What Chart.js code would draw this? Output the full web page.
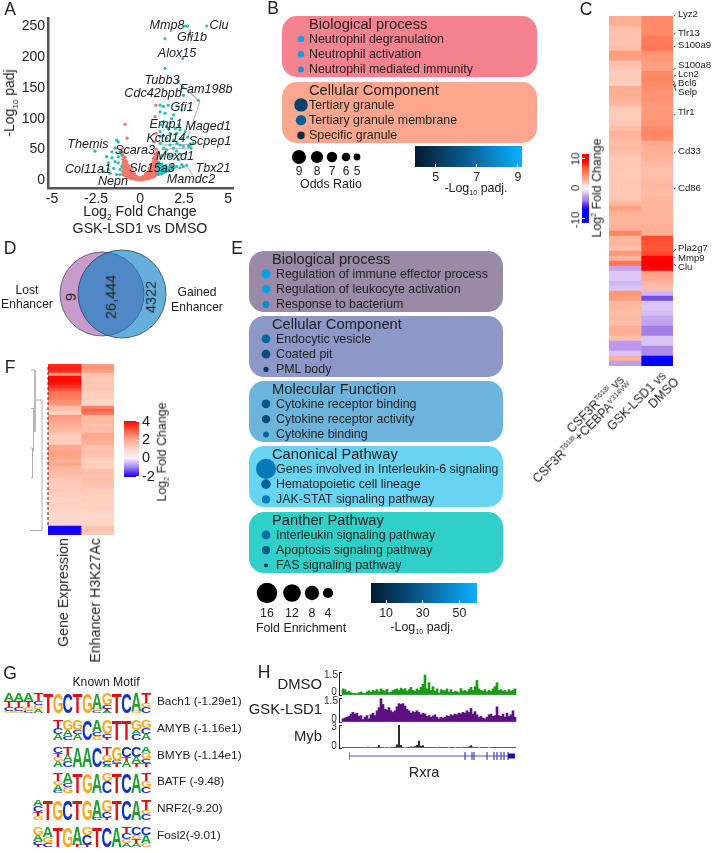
<!DOCTYPE html>
<html>
<head>
<meta charset="utf-8">
<title>Figure</title>
<script src="https://cdn.jsdelivr.net/npm/chart.js@4/dist/chart.umd.min.js"></script>
<style>
body { margin: 0; background: #fff; width: 712px; height: 853px; position: relative; overflow: hidden; font-family: "Liberation Sans", Arial, sans-serif; color: #222; }
canvas { position: absolute; display: block; }
.t { position: absolute; white-space: nowrap; line-height: 1; will-change: transform; }
.box { position: absolute; border-radius: 15px; }
sub, sup { font-size: 58%; line-height: 0; }
</style>
</head>
<body>
<script>
// A volcano
const volcanoTicksX = [-5, -2.5, 0, 2.5, 5];
const volcanoTicksY = [0, 50, 100, 150, 200, 250];
const volcanoSalmon = [
  [-0.97,9],[-0.98,14],[-0.96,19],[-0.97,25],[-0.95,29],[-0.97,34],[-0.96,39],[-0.94,45],[-0.98,52],
  [-0.86,7],[-0.87,12],[-0.85,17],[-0.86,22],[-0.84,27],[-0.86,32],[-0.85,37],
  [-0.75,5],[-0.74,10],[-0.76,15],[-0.75,20],[-0.73,25],[-0.75,30],
  [-0.64,4],[-0.65,8],[-0.63,13],[-0.64,18],[-0.62,23],
  [-0.53,3],[-0.54,7],[-0.52,11],[-0.53,15],[-0.51,19],
  [-0.42,2],[-0.43,5],[-0.41,9],[-0.42,13],
  [-0.31,1.5],[-0.32,4],[-0.3,7],[-0.31,10],
  [-0.2,1],[-0.21,3],[-0.19,6],[-0.1,0.5],[-0.1,2],[-0.09,4],[0,0.5],[0.01,2],[0,3],
  [0.1,0.5],[0.11,2],[0.1,4],[0.2,1],[0.21,3],[0.19,6],
  [0.31,1.5],[0.3,4],[0.32,7],[0.31,10],
  [0.42,2],[0.41,5],[0.43,9],[0.42,13],
  [0.53,3],[0.52,7],[0.54,11],[0.53,15],[0.51,19],
  [0.64,4],[0.63,8],[0.65,13],[0.64,18],[0.62,23],
  [0.75,5],[0.76,10],[0.74,15],[0.75,20],[0.73,25],[0.75,30],[0.76,35],
  [0.86,7],[0.85,12],[0.87,17],[0.86,22],[0.84,27],[0.86,32],[0.85,37],[0.87,42],
  [0.96,9],[0.97,14],[0.95,19],[0.97,24],[0.96,29],[0.94,34],[0.97,39],[0.95,44],[0.93,50],
  [-0.85,91],[-0.74,68],[0.89,122],[0.85,103],[0.9,76],[0.8,62]
];
const volcanoTeal = [
  [2.56,251],[2.7,251],[3.79,251],[1.42,230],[2.42,198],[1.42,182],[2.18,161],[2.42,151],[2.46,138],[3.31,130],
  [1.14,122],[1.33,120],[1.6,122],[2.08,121],[2.37,114],[1.14,111],[1.42,109],[1.9,106],[1.33,95],[1.7,93],
  [1.5,87],[2,84],[2.27,82],[1.14,79],[1.7,76],[2.08,76],[2.56,79],[1.14,71],[1.5,68],[1.9,65],[2.37,68],
  [1.14,60],[1.7,57],[2.27,57],[2.84,57],[1.33,52],[1.9,52],[2.46,55],[2.75,55],[1.04,44],[1.5,49],[2.08,47],
  [1.14,36],[1.7,38],[2.18,33],[2.37,25],[2.65,24],[2.27,20],[2.08,22],[2.46,22],[3.01,60],[2.9,52],
  [1.25,40],[1.6,42],[1.85,40],[2.3,42],[2.6,44],[1.3,72],[1.6,84],[2.2,90],[1.8,100],[2.7,70],[1.2,90],[2.1,60],
  [-2.56,47],[-1.33,65],[-1.24,62],[-1.9,38],[-1.6,36],[-1.42,30],[-1.24,28],[-1.8,17],[-2.08,14],[-1.7,11],
  [-1.14,17],[-1.04,22],[-1.5,19],[-1.33,9],[-1.14,9],[-1.42,52],[-1.14,46],[-1.24,38],[-1.04,41],[-1.6,46],[-1.8,28],
  [1.03,9],[1.04,14],[1.02,19],[1.03,24],[1.05,29],
  [1.14,10],[1.15,15],[1.13,20],[1.14,25],
  [1.25,11],[1.26,16],[1.24,21],[1.25,26],
  [1.36,12],[1.37,17],[1.35,22],
  [1.47,14],[1.48,19],[1.46,24],
  [1.58,15],[1.59,20],[1.69,17],[1.7,22],[1.8,18],[1.82,23],[1.95,20]
];
const volcanoGenes = ['Mmp8','Gfi1b','Clu','Alox15','Tubb3','Cdc42bpb','Fam198b','Gfi1','Emp1','Maged1','Kctd14','Scpep1','Themis','Scara3','Moxd1','Col11a1','Slc15a3','Tbx21','Mamdc2','Nepn'];
const volcanoGeneLabelPos = [[167,25],[192,37],[219,25],[177,53],[162,80],[153,93],[206,89],[182,107],[166,124],[208,126],[166,138],[210,141],[88,144],[135,150],[175,156],[88,169],[152,168],[213,168],[191,179],[113,181]];
const volcanoConnectors = [
  [[2.6,251],[2.85,245],[2.85,232]],
  [[2.2,158],[2.6,148],[3.3,130]],
  [[3.4,128],[2.7,68]],
  [[2.65,150],[3.35,128]],
  [[-2.9,55],[-2.56,47]],
  [[2.65,24],[3,8]],
  [[1.1,57],[2.95,58]],
  [[1.2,50],[2.9,52]]
];

// B enrichment dots
const bioTerms = ['Neutrophil degranulation', 'Neutrophil activation', 'Neutrophil mediated immunity'];
const bioOdds = [4.8, 4.8, 4.5];
const bioPadj = [8.7, 8.6, 8.3];
const cellTerms = ['Tertiary granule', 'Tertiary granule membrane', 'Specific granule'];
const cellOdds = [8.7, 7, 5.4];
const cellPadj = [5.5, 6.5, 4.7];
const oddsLegend = [9, 8, 7, 6, 5];
const padjTicksB = [5, 7, 9];

// C heatmap
const heatCLeft = [3,3,2.4,2.2,2.3,2.2,2.4,3.8,3.6,2.4,
  2.2,1.8,1.9,1.7,3,3.1,2.9,2.8,2,1.9,
  1.9,2,2.4,2.9,2.6,2.5,2.6,2.4,2,2.1,
  2,1.9,2,2.1,2,2,2.1,2.6,3.6,3,
  2.8,2.8,3,4.8,2.6,2.8,2.4,4,2.8,5.5,
  -2.6,-1.5,-1.5,-2,-1.6,4,3.8,2.6,2.6,2.5,
  2.6,2.4,3,3,2.4,-3,-3,-1.6,3,-2.8];
const heatCRight = [4.6,4.6,4.6,4.6,5.2,5.2,5.4,4.2,4,3.8,
  3.6,4.6,4.8,4.6,4.4,4.2,4.2,4,3.9,4,
  4,4.2,4.6,4.8,4.6,3.2,3,3,2.9,2.6,
  2.5,2.4,2.5,2.6,2.6,2.5,2.7,2.8,2.8,2.8,
  2.9,2.9,3,3,7.2,7,6.8,7.2,9.5,10,
  9.5,3.6,3.4,2.6,2.4,-2,-5,-1.6,-1.5,-1.8,
  -2.4,-2.6,-4,-4,-1.6,-1.6,-3.5,-3.5,-10,-10];
const heatCGenes = ['Lyz2','Tlr13','S100a9','S100a8','Lcn2','Bcl6','Selp','Tlr1','Cd33','Cd86','Pla2g7','Mmp9','Clu'];
const heatCGeneY = [14,33,45,65,74,83,92,112,151,188,248,258,267];
const heatCMarkRows = [[0,0],[3.6,3.6],[6.2,6.2],[10.8,10.3],[12.2,11.8],[13,14.2],[13.6,15],[19.8,19.8],[27.4,27.4],[34.6,34.6],[47.2,46.6],[48.4,48.4],[49.6,50]];
const fcTicksC = [-10, 0, 10];

// D venn
const vennLabels = ['9', '26,444', '4322'];
const vennRadii = [42, 44];

// E enrichment dots
const eBoxes = ['Biological process', 'Cellular Component', 'Molecular Function', 'Canonical Pathway', 'Panther Pathway'];
const eTerms = [
  ['Regulation of immune effector process', 'Regulation of leukocyte activation', 'Response to bacterium'],
  ['Endocytic vesicle', 'Coated pit', 'PML body'],
  ['Cytokine receptor binding', 'Cytokine receptor activity', 'Cytokine binding'],
  ['Genes involved in Interleukin-6 signaling', 'Hematopoietic cell lineage', 'JAK-STAT signaling pathway'],
  ['Interleukin signaling pathway', 'Apoptosis signaling pathway', 'FAS signaling pathway']
];
const eFold = [[3.2,2.6,1.8],[2.9,2.9,1],[2.9,2.7,1.3],[15.5,3.5,2.6],[2.9,2.6,0.6]];
const ePadj = [[53,52,45],[32,23,15],[27,23,33],[40,31,41],[35,29,13]];
const foldLegend = [16, 12, 8, 4];
const padjTicksE = [10, 30, 50];

// F heatmap
const heatFLeft = [3.6,3.8,3.6,2.2,4,4,3.9,3.6,3.3,2.8,
  2.7,2.6,2.4,2.3,1.5,1.4,1,2.2,2.1,2,
  1.9,1.7,1.6,1.3,1.1,1.3,1.1,2,2,2.1,
  2.1,2,1.9,2,1.7,1.6,1.6,1.5,1.3,1.3,
  1.2,1.3,1.3,1.1,1.1,1,1.1,1.1,1,0.9,
  0.9,0.9,1,1,-2,-2,-2];
const heatFRight = [2.2,2.3,2.1,1.5,1.4,1.3,1.4,1.3,1.4,1.2,
  1.1,1.2,1,1,2.6,3,2.8,1.7,1.6,1.6,
  1.5,1.6,1.5,2,2,1.9,1.8,1.5,1.4,1.5,
  1.4,1.2,1.1,1.2,1.1,1.5,1.5,1.4,1.5,1.5,
  1.4,1.3,1.2,1.2,1.1,1.2,1.1,1.1,1.1,1,
  0.9,1,1,1,1.4,1.4,1.3];
const fcTicksF = [-2, 0, 2, 4];
const dendroLinks = [
  [[0,55.5],[12,55.5],[12,12],[5,12]],
  [[1,2],[5,2],[5,22.5],[3.5,22.5]],
  [[1,14.8],[3.5,14.8],[3.5,29],[2.5,29]],
  [[1,28],[2.5,28],[2.5,38],[1,38]]
];

// G motifs, letter heights per position, top of the stack first
const motifNames = ['Bach1 (-1.29e1)', 'AMYB (-1.16e1)', 'BMYB (-1.14e1)', 'BATF (-9.48)', 'NRF2(-9.20)', 'Fosl2(-9.01)'];
const motifBach1 = ['A4T3C2G1','A4T3C2G1','A4T3G2C1','T4C2G2A2','T10','G10','C10','T10','G10','A8G1C1','G6C2T1A1','T10','C10','A9G1','T5G2C3'];
const motifAmyb = ['T4C3A3','G5A3C2','G5C2A3','C10','A6C2G2','G7C2T1','T10','T10','G5A2C3','G4C3A3'];
const motifBmyb = ['C3T2G2A3','T4A3C3','A10','A10','C10','T4G3C2A1','G7C1T2','C5T2A3','C5A3T2','A3G3C2T2'];
const motifBatf = ['T4G2A3C1','A5C2G3','T10','G10','A10','G4C6','T10','C10','A10','T4G3C3'];
const motifNrf2 = ['A3C3T2G2','T10','G10','C10','T10','G10','A9C1','G6C3T1','T10','C10','A10','T5G2C3'];
const motifFosl2 = ['G4A3C2T1','A5G3C2','T10','G10','A9T1','G4C5T1','T10','C10','A10','T3C3G2A2','C4G2T2A2','C4A4G2'];

// H tracks
const dmsoSignal = [.4,.35,.2,.25,.15,.1,.12,.08,.15,.2,
  .12,.1,.2,.28,.18,.3,.25,.35,.2,.4,
  .3,.25,.38,.15,.2,.3,.35,.4,.3,.45,
  .35,.42,.25,.35,.5,.3,.25,.4,.3,.5,
  .7,1.3,.4,.8,.3,.55,.25,.4,.12,.35,
  .3,.28,.4,.2,.35,.18,.25,.22,.15,.42,
  .25,.3,.2,.35,.5,.3,.55,.95,.4,.3,
  .25,.35,.2,.3,.25,.4,.55,.8,.3,.35,
  .25,.3,.2,.35,.25,.3,.4];
const gskSignal = [.2,.25,.3,.35,.5,.6,.5,.55,.35,.4,
  .15,.3,.4,.2,.45,.55,.4,.7,.9,1.45,
  1.1,.8,.75,.9,.7,.6,.7,.95,1.15,1.1,
  1.15,1,.8,.7,.55,.65,.6,.7,.6,.45,
  .55,.5,.35,.4,.3,.38,.45,.3,.2,.3,
  .25,.3,.4,.35,.45,.4,.5,.45,.55,.5,
  .6,.55,.7,.6,.85,.5,.65,.45,.3,.35,
  .25,.2,.3,.45,.5,.35,.4,.95,.4,.35,
  .5,.3,.55,.35,.45,.7,.3];
const mybSignal = [.03,.05,.03,.05,.02,.05,.03,.05,.04,.05,
  .03,.06,.04,.05,.07,.08,.05,.1,.3,.08,
  .05,.06,.05,.07,.08,.1,.12,.4,3,.35,
  .08,.06,.08,.1,.15,.12,.2,.35,.9,.25,
  .3,.1,.05,.03,.05,.02,.05,.06,.03,.05,
  .04,.05,.03,.07,.03,.05,.07,.03,.05,.06,
  .03,.05,.1,.14,.3,.12,.05,.03,.06,.03,
  .05,.03,.04,.06,.03,.05,.02,.05,.03,.05,
  .02,.04,.03,.05,.02,.04,.03];
const geneSpan = [0, 166];
const exonStarts = [0, 116, 123, 125, 138, 145, 148, 152, 155, 159];
const utrSpan = [159, 166];

const ink = '#222';
const sans = '"Liberation Sans", Arial, sans-serif';
Chart.defaults.font.family = sans;
Chart.defaults.color = ink;
Chart.defaults.animation = false;
Chart.defaults.responsive = false;
Chart.defaults.devicePixelRatio = 1;
Chart.defaults.layout.autoPadding = false;
Chart.defaults.plugins.legend.display = false;
Chart.defaults.plugins.tooltip.enabled = false;

function txt(html, x, y, o = {}) {
  const d = document.createElement('div');
  d.className = 't';
  d.innerHTML = html;
  const anchor = o.align === 'left' ? '0,-50%' : o.align === 'right' ? '-100%,-50%' : '-50%,-50%';
  const origin = o.align === 'left' ? '0 50%' : o.align === 'right' ? '100% 50%' : '50% 50%';
  d.style.left = x + 'px';
  d.style.top = y + 'px';
  d.style.fontSize = (o.size || 12.4) + 'px';
  d.style.transformOrigin = origin;
  d.style.transform = `translate(${anchor})` + (o.rot ? ` rotate(${o.rot}deg)` : '');
  if (o.italic) d.style.fontStyle = 'italic';
  if (o.color) d.style.color = o.color;
  document.body.appendChild(d);
  return d;
}

function mkCanvas(x, y, w, h) {
  const c = document.createElement('canvas');
  c.width = w;
  c.height = h;
  c.style.left = x + 'px';
  c.style.top = y + 'px';
  c.style.width = w + 'px';
  c.style.height = h + 'px';
  document.body.appendChild(c);
  return c;
}

function lerpColor(stops, v) {
  if (v <= stops[0][0]) return stops[0][1];
  for (let i = 1; i < stops.length; i++) {
    if (v <= stops[i][0]) {
      const [a, ca] = stops[i - 1];
      const [b, cb] = stops[i];
      const t = (v - a) / (b - a);
      const mix = ca.map((p, k) => Math.round(p + (cb[k] - p) * t));
      return mix;
    }
  }
  return stops[stops.length - 1][1];
}
const rgb = c => `rgb(${c[0]},${c[1]},${c[2]})`;

// stop chart.js growing the plot margins for tick label overhang
function noOverhang(s) {
  s.paddingTop = 0;
  s.paddingBottom = 0;
  s.paddingLeft = 0;
  s.paddingRight = 0;
}

// fold change ramps
const rampC = [[-7,[0,0,255]],[-5.5,[90,48,224]],[-4,[166,126,232]],[-2.5,[196,165,240]],[-1,[230,218,248]],[0,[255,250,250]],
  [2,[255,200,182]],[3,[255,175,150]],[4.6,[255,138,104]],[7,[255,82,52]],[9,[255,8,4]],[10,[255,0,0]]];
const rampF = [[-2,[20,0,240]],[-1,[160,128,240]],[0,[250,240,250]],[1,[255,214,200]],[2,[255,168,142]],[3,[255,100,72]],[4,[255,10,5]]];
// -log10 padj ramp, 0..1 along a colour bar
const blueRamp = [[0,[2,26,48]],[0.5,[8,96,150]],[1,[11,176,255]]];

function heatmap(x, y, w, h, cols, ramp) {
  new Chart(mkCanvas(x, y, w, h), {
    type: 'bar',
    data: {
      labels: cols[0].map((_, i) => i),
      datasets: cols.map((vals, c) => ({
        data: vals.map(() => [c, c + 1]),
        backgroundColor: vals.map(v => rgb(lerpColor(ramp, v))),
        barPercentage: 1, categoryPercentage: 1, grouped: false
      }))
    },
    options: {
      indexAxis: 'y',
      scales: {
        x: { display: false, min: 0, max: cols.length },
        y: { display: false }
      }
    }
  });
}

function colorbar(x, y, w, h, min, max, ticks, o) {
  const horiz = o.horizontal;
  const pad = 10;
  const side = o.side || 0;
  const cv = horiz ? mkCanvas(x - pad, y, w + pad * 2, h + side)
    : mkCanvas(o.labelsLeft ? x - side : x, y - pad, w + side, h + pad * 2);
  const fill = ctx => {
    const a = ctx.chart.chartArea;
    if (!a) return 'transparent';
    const g = horiz ? ctx.chart.ctx.createLinearGradient(a.left, 0, a.right, 0)
      : ctx.chart.ctx.createLinearGradient(0, a.bottom, 0, a.top);
    o.stops.forEach(s => {
      const t = (s[0] - o.stopMin) / (o.stopMax - o.stopMin);
      if (t >= 0 && t <= 1) g.addColorStop(t, rgb(s[1]));
    });
    return g;
  };
  const valueAxis = {
    min, max,
    position: horiz ? 'bottom' : (o.labelsLeft ? 'left' : 'right'),
    grid: { drawOnChartArea: false, drawTicks: true, tickLength: -3, color: '#fff', z: 1 },
    border: { display: false },
    ticks: { display: !o.hideLabels, font: { size: o.font }, padding: o.padding, color: ink, autoSkip: false, maxRotation: 0 },
    afterBuildTicks: s => { s.ticks = ticks.map(v => ({ value: v })); },
    afterFit: s => { noOverhang(s); if (horiz) s.height = side; else s.width = side; }
  };
  new Chart(cv, {
    type: 'bar',
    data: { labels: [''], datasets: [{ data: [[min, max]], backgroundColor: fill, barPercentage: 1, categoryPercentage: 1 }] },
    options: {
      indexAxis: horiz ? 'y' : 'x',
      layout: { padding: horiz ? { left: pad, right: pad } : { top: pad, bottom: pad } },
      scales: horiz ? { x: valueAxis, y: { display: false } } : { y: valueAxis, x: { display: false } }
    }
  });
}

function dotBox(x, y, w, h, color, title, titleX, terms, textX, dotOffset, radii, colors) {
  const b = document.createElement('div');
  b.className = 'box';
  b.style.cssText = `left:${x}px;top:${y}px;width:${w}px;height:${h}px;background:${color}`;
  document.body.appendChild(b);
  new Chart(mkCanvas(x + dotOffset - 19, y - 4, 38, h + 8), {
    type: 'bubble',
    data: { datasets: [{ data: terms.map((_, i) => ({ x: 0, y: i, r: radii[i] })), backgroundColor: colors, borderWidth: 0, clip: false }] },
    options: {
      layout: { padding: { top: 4, bottom: 4 } },
      scales: { x: { display: false, min: -1, max: 1 }, y: { display: false, reverse: true, min: -1.5, max: 2.5 } }
    }
  });
  const rowH = h / 4;
  txt(title, titleX, y + rowH * 0.5, { size: 14.7, align: 'left' });
  terms.forEach((t, i) => txt(t, textX, y + rowH * (i + 1.5), { size: 12.4, align: 'left' }));
}

function sizeLegend(xs, y, radii) {
  const left = Math.min(...xs) - 15;
  const w = Math.max(...xs) - left + 15;
  new Chart(mkCanvas(left, y - 15, w, 30), {
    type: 'bubble',
    data: { datasets: [{ data: xs.map((v, i) => ({ x: v, y: 0, r: radii[i] })), backgroundColor: '#000', borderWidth: 0, clip: false }] },
    options: { scales: { x: { display: false, min: left, max: left + w }, y: { display: false, min: -1, max: 1 } } }
  });
}

function plainLines(x, y, w, h, xr, yr, lists, color, width) {
  new Chart(mkCanvas(x, y, w, h), {
    type: 'scatter',
    data: { datasets: lists.map(l => ({
      data: l.map(p => ({ x: p[0], y: p[1] })), showLine: true, pointRadius: 0,
      borderColor: color, borderWidth: width, clip: false
    })) },
    options: { scales: {
      x: { display: false, min: xr[0], max: xr[1], reverse: xr[2] },
      y: { display: false, min: yr[0], max: yr[1], reverse: yr[2] }
    } }
  });
}

// panel letters
[['A',10,10],['B',273,9],['C',586,10],['D',10,249],['E',237,249],['F',10,368],['G',10,674],['H',264,673]]
  .forEach(p => txt(p[0], p[1], p[2], { size: 17.5 }));

// ---- A
new Chart(mkCanvas(0, 0, 240, 210), {
  type: 'scatter',
  data: { datasets: [
    // first dataset ends up on top
    { data: volcanoTeal.map(p => ({ x: p[0], y: p[1] })), pointRadius: 1.6, backgroundColor: '#27bdb9', borderWidth: 0 },
    { data: volcanoSalmon.map(p => ({ x: p[0], y: p[1] })), pointRadius: 1.7, backgroundColor: '#f0776a', borderWidth: 0 },
    ...volcanoConnectors.map(l => ({
      data: l.map(p => ({ x: p[0], y: p[1] })), showLine: true, pointRadius: 0, borderColor: '#9a9a9a', borderWidth: 0.8
    }))
  ] },
  options: {
    layout: { padding: { top: 18, right: 7 } },
    scales: {
      x: {
        min: -5.23, max: 5.28,
        grid: { drawOnChartArea: false, drawTicks: false },
        border: { color: '#555', width: 2.5 },
        ticks: { font: { size: 14 }, padding: 3, autoSkip: false },
        afterBuildTicks: s => { s.ticks = volcanoTicksX.map(v => ({ value: v })); },
        afterFit: s => { noOverhang(s); s.height = 22; }
      },
      y: {
        min: -13, max: 264,
        grid: { drawOnChartArea: false, drawTicks: false },
        border: { color: '#555', width: 2.5 },
        ticks: { font: { size: 14 }, padding: 3, autoSkip: false },
        afterBuildTicks: s => { s.ticks = volcanoTicksY.map(v => ({ value: v })); },
        afterFit: s => { noOverhang(s); s.width = 48; }
      }
    }
  }
});
volcanoGenes.forEach((g, i) => txt(g, volcanoGeneLabelPos[i][0], volcanoGeneLabelPos[i][1], { size: 12.6, italic: true }));
txt('-Log<sub>10</sub> padj', 9, 103, { size: 14, rot: -90 });
txt('Log<sub>2</sub> Fold Change', 140, 211, { size: 14.2 });
txt('GSK-LSD1 vs DMSO', 140, 228, { size: 14.2 });

// ---- B
const oddsRadius = v => (v - 5) * 0.9 + 3.4;
const padjColorB = v => rgb(lerpColor(blueRamp, (v - 4) / 5.2));
dotBox(282, 16, 255, 61, '#f4828f', 'Biological process', 309, bioTerms, 309, 19, bioOdds.map(oddsRadius), bioPadj.map(padjColorB));
dotBox(282, 82, 255, 61, '#fca68e', 'Cellular Component', 309, cellTerms, 309, 19, cellOdds.map(oddsRadius), cellPadj.map(padjColorB));
const oddsLegendX = [299, 317, 332, 346, 357];
sizeLegend(oddsLegendX, 157, oddsLegend.map(oddsRadius));
oddsLegend.forEach((v, i) => txt(String(v), oddsLegendX[i], 171, { size: 12 }));
txt('Odds Ratio', 331, 184, { size: 12.4 });
colorbar(415, 146, 107, 21, 4, 9.2, padjTicksB, { horizontal: true, side: 18, font: 12.4, padding: 6, stops: blueRamp.map(s => [s[0], s[1]]), stopMin: 0, stopMax: 1 });
txt('-Log<sub>10</sub> padj.', 476, 188, { size: 12.4 });

// ---- C
heatmap(609, 16, 64, 350, [heatCLeft, heatCRight], rampC);
colorbar(582, 154, 7, 69, -11.5, 11.5, fcTicksC, { labelsLeft: true, side: 14, hideLabels: true, stops: rampC, stopMin: -11.5, stopMax: 11.5 });
[159, 188, 220].forEach((y, i) => txt(String(fcTicksC[2 - i]), 576, y, { size: 11.5, rot: -90 }));
txt('Log<sup>2</sup> Fold Change', 597, 188, { size: 12.4, rot: -90 });
heatCGenes.forEach((g, i) => txt(g, 678, heatCGeneY[i], { size: 9.6, align: 'left' }));
plainLines(672, 11, 10, 360, [0, 10], [-1, 71, true],
  heatCMarkRows.map(r => r[0] === r[1] ? [[2, r[0]], [3.5, r[1] - 0.2]] : [[1.5, r[0]], [4, r[1]]]), '#333', 0.9);
txt('CSF3R<sup>T618I</sup> vs', 622, 378, { size: 12.4, align: 'right', rot: -45 });
txt('CSF3R<sup>T618I</sup>+CEBPA<sup>V314VW</sup>', 631, 385, { size: 12.4, align: 'right', rot: -45 });
txt('GSK-LSD1 vs', 664, 374, { size: 12.4, align: 'right', rot: -45 });
txt('DMSO', 677, 380, { size: 12.4, align: 'right', rot: -45 });

// ---- D
new Chart(mkCanvas(50, 240, 130, 110), {
  type: 'bubble',
  data: { datasets: [
    // first dataset ends up on top
    { data: [{ x: 72, y: 54, r: vennRadii[1] }], backgroundColor: 'rgba(0,122,197,.6)', borderColor: 'rgba(40,60,90,.75)', borderWidth: 1, clip: false },
    { data: [{ x: 52, y: 54, r: vennRadii[0] }], backgroundColor: 'rgba(163,88,163,.6)', borderColor: 'rgba(60,70,90,.75)', borderWidth: 1, clip: false }
  ] },
  options: { scales: { x: { display: false, min: 0, max: 130 }, y: { display: false, min: 0, max: 110, reverse: true } } }
});
txt(vennLabels[0], 71, 297, { size: 14.5, rot: -90 });
txt(vennLabels[1], 111, 297, { size: 14.5, rot: -90 });
txt(vennLabels[2], 151, 297, { size: 14.5, rot: -90 });
txt('Lost', 27, 290, { size: 12.1 });
txt('Enhancer', 27, 304, { size: 12.1 });
txt('Gained', 197, 292, { size: 12.1 });
txt('Enhancer', 197, 307, { size: 12.1 });

// ---- E
const foldRadius = v => 2.55 * Math.sqrt(v);
const padjColorE = v => rgb(lerpColor(blueRamp, (v - 1.8) / 57.8));
const eBoxTop = [251, 316, 381, 446, 512];
const eBoxColor = ['#9a8aa8', '#8e98c8', '#6cb4dc', '#68d4f2', '#30d0c8'];
eBoxes.forEach((name, i) => {
  dotBox(249, eBoxTop[i], 254, 61, eBoxColor[i], name, 272, eTerms[i], 276, 17, eFold[i].map(foldRadius), ePadj[i].map(padjColorE));
});
const foldLegendX = [267, 292, 312, 328];
sizeLegend(foldLegendX, 593, foldLegend.map(foldRadius));
foldLegend.forEach((v, i) => txt(String(v), foldLegendX[i], 613, { size: 12.4 }));
txt('Fold Enrichment', 301, 628, { size: 12.4 });
colorbar(371, 583, 106, 20, 1.8, 59.6, padjTicksE, { horizontal: true, side: 18, font: 12.4, padding: 6, stops: blueRamp, stopMin: 0, stopMax: 1 });
txt('-Log<sub>10</sub> padj.', 422, 627, { size: 12.4 });

// ---- F
heatmap(48, 364, 66, 171, [heatFLeft, heatFRight], rampF);
plainLines(30, 364, 18, 171, [18, 0], [0, 57, true], dendroLinks, '#b0b0b0', 1);
new Chart(mkCanvas(46, 364, 4, 171), {
  type: 'scatter',
  data: { datasets: [{ data: [{ x: 0, y: 1 }, { x: 0, y: 54 }], showLine: true, pointRadius: 0, borderColor: '#333', borderWidth: 1, borderDash: [3, 2] }] },
  options: { scales: { x: { display: false, min: -1, max: 1 }, y: { display: false, min: 0, max: 57, reverse: true } } }
});
colorbar(124, 421, 15, 56, -2.05, 4.1, fcTicksF, { side: 20, font: 14.5, padding: 6, stops: rampF, stopMin: -2.05, stopMax: 4.1 });
txt('Log<sub>2</sub> Fold Change', 162, 452, { size: 12.4, rot: -90 });
txt('Gene Expression', 63, 538, { size: 14.2, align: 'right', rot: -90 });
txt('Enhancer H3K27Ac', 95, 538, { size: 14.2, align: 'right', rot: -90 });

// ---- G
const letterColor = { A: '#1fa030', C: '#1030d0', G: '#f5a820', T: '#e01010' };
const logoLetters = {
  id: 'logoLetters',
  afterDatasetsDraw(chart) {
    const ctx = chart.ctx;
    chart.data.datasets.forEach((ds, k) => {
      chart.getDatasetMeta(k).data.forEach((bar, j) => {
        const L = ds.letters[j];
        const h = bar.base - bar.y;
        if (!L || h <= 0) return;
        ctx.save();
        ctx.font = 'bold 40px ' + sans;
        ctx.textBaseline = 'alphabetic';
        ctx.fillStyle = letterColor[L];
        const m = ctx.measureText(L);
        const gw = m.actualBoundingBoxLeft + m.actualBoundingBoxRight;
        const gh = m.actualBoundingBoxAscent + m.actualBoundingBoxDescent;
        ctx.translate(bar.x - bar.width / 2, bar.y);
        ctx.scale(bar.width / gw, h / gh);
        ctx.fillText(L, m.actualBoundingBoxLeft, m.actualBoundingBoxAscent);
        ctx.restore();
      });
    });
  }
};
function motifLogo(cols, rightX, y) {
  const parsed = cols.map(c => [...c.matchAll(/([ACGT])(\d+)/g)].map(m => [m[1], +m[2]]).reverse());
  const w = Math.round(cols.length * 9.8);
  new Chart(mkCanvas(rightX - w, y, w, 20), {
    type: 'bar',
    plugins: [logoLetters],
    data: {
      labels: cols.map((_, i) => i),
      datasets: [0, 1, 2, 3].map(k => ({
        data: parsed.map(p => p[k] ? p[k][1] : 0),
        letters: parsed.map(p => p[k] ? p[k][0] : null),
        backgroundColor: 'transparent', barPercentage: 1, categoryPercentage: 1
      }))
    },
    options: { scales: {
      x: { display: false, stacked: true },
      y: { display: false, stacked: true, min: 0, max: 10 }
    } }
  });
}
txt('Known Motif', 106, 682, { size: 12.2 });
const motifs = [motifBach1, motifAmyb, motifBmyb, motifBatf, motifNrf2, motifFosl2];
const motifTop = [693, 720, 747, 773, 800, 827];
motifs.forEach((m, i) => {
  motifLogo(m, 151, motifTop[i]);
  txt(motifNames[i], 157, motifTop[i] + 8.5, { size: 11.8, align: 'left' });
});

// ---- H
function track(values, top, h, max, color, thin) {
  new Chart(mkCanvas(318, top - 6, 199, h + 12), {
    type: 'bar',
    data: { datasets: [{ data: values.map((v, i) => ({ x: i, y: v })), backgroundColor: color, barPercentage: 1, categoryPercentage: 1, barThickness: thin ? 1 : undefined }] },
    options: {
      layout: { padding: { top: 6, bottom: 6 } },
      scales: {
        x: { type: 'linear', display: false, offset: false, min: -2, max: 87 },
        y: {
          min: 0, max,
          grid: { drawOnChartArea: false, drawTicks: true, tickLength: -3, color: '#222' },
          border: { color: '#222', width: 1 },
          ticks: { display: false },
          afterBuildTicks: s => { s.ticks = [{ value: 0 }, { value: max }]; },
          afterFit: s => { noOverhang(s); s.width = 21; }
        }
      }
    }
  });
}
track(dmsoSignal, 672, 23, 1.5, '#1a9a1a', false);
track(gskSignal, 698, 24, 1.5, '#5c1080', false);
track(mybSignal, 725, 23, 3, '#000', true);
[['1.5',331,675],['0',334,692],['1.5',331,701],['0',334,719],['3',334,727],['0',334,746]]
  .forEach(l => txt(l[0], l[1], l[2], { size: 10, color: '#333' }));
txt('DMSO', 322, 684, { size: 14.8, align: 'right' });
txt('GSK-LSD1', 322, 709, { size: 14.8, align: 'right' });
txt('Myb', 322, 736, { size: 14.8, align: 'right' });

new Chart(mkCanvas(349, 748, 168, 16), {
  type: 'scatter',
  data: { datasets: [
    { data: [{ x: geneSpan[0], y: 0 }, { x: geneSpan[1], y: 0 }], showLine: true, pointRadius: 0, borderColor: '#2a2ab8', borderWidth: 0.8 },
    ...exonStarts.map(e => ({ data: [{ x: e, y: -1 }, { x: e, y: 1 }], showLine: true, pointRadius: 0, borderColor: '#2020b0', borderWidth: 1 })),
    { data: [{ x: utrSpan[0], y: 0 }, { x: utrSpan[1], y: 0 }], showLine: true, pointRadius: 0, borderColor: '#1010b0', borderWidth: 5 }
  ] },
  options: { scales: { x: { display: false, min: 0, max: 168 }, y: { display: false, min: -2, max: 2 } } }
});
txt('Rxra', 424, 772, { size: 14.5 });
</script>
</body>
</html>
